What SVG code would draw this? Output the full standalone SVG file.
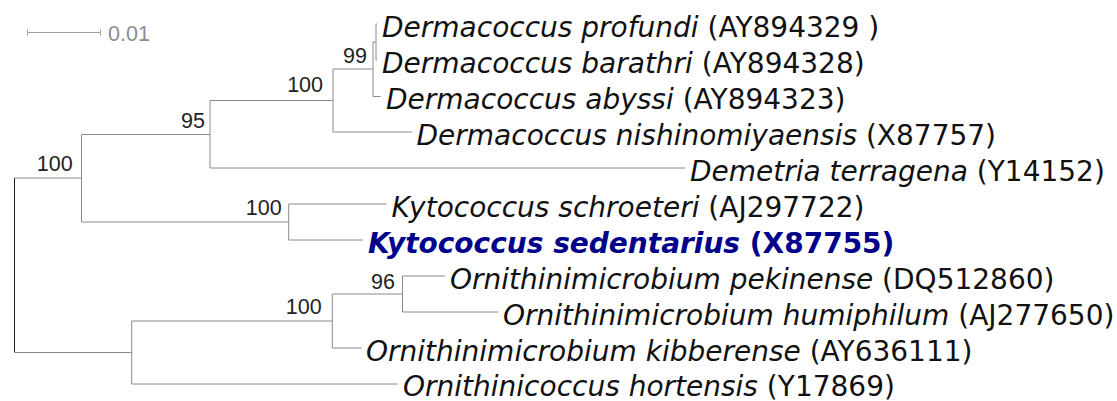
<svg xmlns="http://www.w3.org/2000/svg" width="1117" height="401" viewBox="0 0 1117 401">
<style>
.br{stroke:#8a8a8a;stroke-width:1;fill:none}
.rt{stroke:#222;stroke-width:1;fill:none}
.sb{stroke:#a0a0a0;stroke-width:1;fill:none}
.lf{font-family:"DejaVu Sans",sans-serif;font-size:28px;fill:#111}
.sp{font-style:italic}
.hl{font-family:"DejaVu Sans",sans-serif;font-size:28px;fill:#00008b;font-weight:bold}
.bs{font-family:"Liberation Sans",Arial,sans-serif;font-size:21.5px;fill:#222;text-anchor:end}
.sl{font-family:"Liberation Sans",Arial,sans-serif;font-size:21.5px;fill:#8c8c8c}
</style>
<rect width="1117" height="401" fill="#fff"/>
<g id="scale">
<path class="sb" d="M27.5,32.5H100.5M27.5,29.5V35.5M100.5,29.5V35.5"/>
<text class="sl" x="108" y="40.5">0.01</text>
</g>
<g id="connectors">
<path class="rt" d="M14.5,178V352.5"/>
<path class="br" d="M14.5,178H81.5M81.5,134.5V222M81.5,134.5H210M210,100.5V168M210,100.5H333M333,69V132M333,69H373M373,42V96.5M373,42H376M376,24V60M376,24H377M376,60H377M373,96.5H380.5M333,132H411.7M210,168H685"/>
<path class="br" d="M81.5,222H288.7M288.7,204V240M288.7,204H386.7M288.7,240H363"/>
<path class="br" d="M14.5,352.5H131.7M131.7,321V384M131.7,321H332.3M332.3,294V348M332.3,294H402.5M402.5,276V312M402.5,276H445M402.5,312H498M332.3,348H361.7M131.7,384H398"/>
</g>
<g id="n_root_kyto_derm"><text class="bs" x="72.7" y="171">100</text></g>
<g id="n_derm_demetria"><text class="bs" x="205" y="128">95</text></g>
<g id="n_derm"><text class="bs" x="323" y="92">100</text></g>
<g id="n_derm99"><text class="bs" x="367" y="62.5">99</text></g>
<g id="n_kyto"><text class="bs" x="281.7" y="215">100</text></g>
<g id="n_ornithinimicrobium"><text class="bs" x="321.7" y="314">100</text></g>
<g id="n_orn96"><text class="bs" x="395" y="288.5">96</text></g>
<g id="leaf_profundi"><text class="lf" x="382" y="37"><tspan class="sp">Dermacoccus profundi</tspan> (AY894329 )</text></g>
<g id="leaf_barathri"><text class="lf" x="382" y="73"><tspan class="sp">Dermacoccus barathri</tspan> (AY894328)</text></g>
<g id="leaf_abyssi"><text class="lf" x="386" y="109"><tspan class="sp">Dermacoccus abyssi</tspan> (AY894323)</text></g>
<g id="leaf_nishinomiyaensis"><text class="lf" x="416.5" y="145"><tspan class="sp">Dermacoccus nishinomiyaensis</tspan> (X87757)</text></g>
<g id="leaf_demetria"><text class="lf" x="690" y="181"><tspan class="sp">Demetria terragena</tspan> (Y14152)</text></g>
<g id="leaf_schroeteri"><text class="lf" x="391.5" y="217"><tspan class="sp">Kytococcus schroeteri</tspan> (AJ297722)</text></g>
<g id="leaf_sedentarius"><text class="hl" x="368" y="253"><tspan class="sp">Kytococcus sedentarius</tspan> (X87755)</text></g>
<g id="leaf_pekinense"><text class="lf" x="450" y="289"><tspan class="sp">Ornithinimicrobium pekinense</tspan> (DQ512860)</text></g>
<g id="leaf_humiphilum"><text class="lf" x="503" y="325"><tspan class="sp">Ornithinimicrobium humiphilum</tspan> (AJ277650)</text></g>
<g id="leaf_kibberense"><text class="lf" x="366" y="361"><tspan class="sp">Ornithinimicrobium kibberense</tspan> (AY636111)</text></g>
<g id="leaf_hortensis"><text class="lf" x="403" y="396"><tspan class="sp">Ornithinicoccus hortensis</tspan> (Y17869)</text></g>
</svg>
